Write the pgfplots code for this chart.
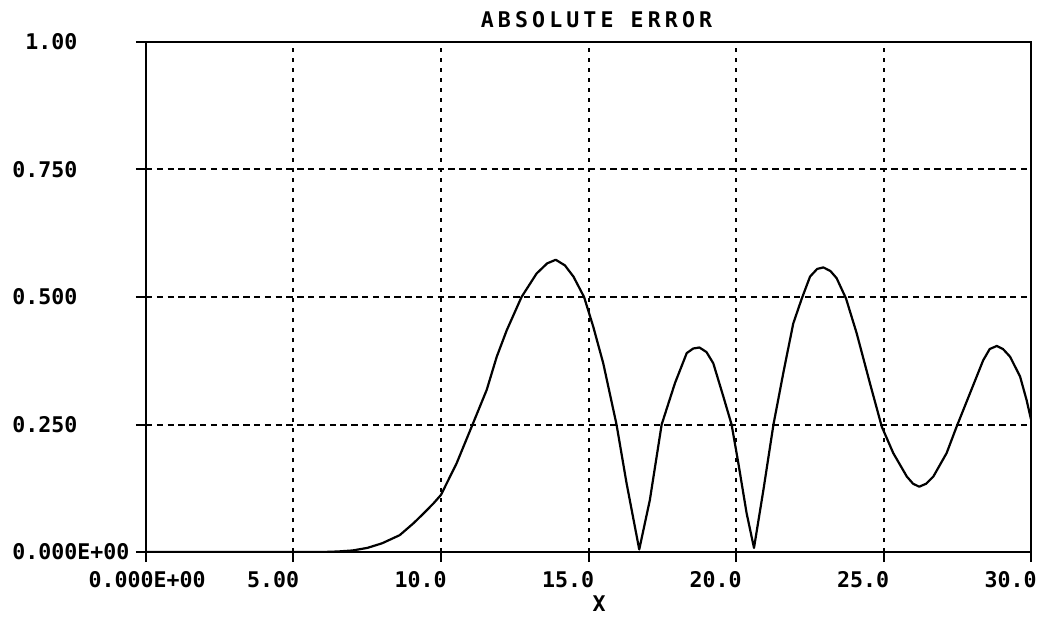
\documentclass[border=0pt]{standalone}
\usepackage{pgfplots}
\pgfplotsset{compat=1.18}
\usepackage{fontspec}
\setmainfont{DejaVu Sans Mono}

\pgfplotstableread{
x y
0.00 0.000
6.00 0.000
6.50 0.001
7.00 0.003
7.50 0.008
8.00 0.017
8.60 0.033
9.06 0.056
9.40 0.075
9.74 0.095
10.00 0.112
10.53 0.174
11.07 0.250
11.55 0.318
11.89 0.383
12.23 0.435
12.73 0.500
13.24 0.546
13.60 0.566
13.89 0.573
14.20 0.562
14.49 0.540
14.85 0.500
15.16 0.442
15.50 0.370
15.95 0.250
16.29 0.135
16.72 0.005
17.08 0.102
17.48 0.250
17.93 0.331
18.33 0.390
18.55 0.399
18.76 0.401
19.00 0.392
19.23 0.370
19.57 0.305
19.85 0.250
20.08 0.174
20.36 0.076
20.61 0.008
20.93 0.122
21.27 0.250
21.60 0.350
21.94 0.448
22.23 0.497
22.51 0.540
22.75 0.555
22.96 0.558
23.20 0.551
23.41 0.537
23.73 0.497
24.09 0.429
24.54 0.331
24.94 0.246
25.33 0.194
25.79 0.148
26.00 0.134
26.21 0.128
26.45 0.134
26.69 0.148
27.14 0.194
27.48 0.246
27.93 0.311
28.38 0.376
28.60 0.398
28.84 0.404
29.05 0.398
29.29 0.383
29.63 0.344
29.85 0.298
30.00 0.260
}\errdata

\begin{document}
\begin{tikzpicture}
\path[use as bounding box] (-73pt,-32pt) rectangle (448.5pt,276pt);
\begin{axis}[
  at={(0pt,0pt)}, anchor=south west,
  scale only axis,
  width=442.5pt, height=255pt,
  xmin=0, xmax=30, ymin=0, ymax=1,
  axis line style={line width=1pt},
  xtick={0,5,10,15,20,25,30},
  xticklabels={0.000E+00\kern-27pt,5.00,10.0,15.0,20.0,25.0,30.0},
  ytick={0,0.25,0.5,0.75,1},
  yticklabels={0.000E+00,0.250,0.500,0.750,\phantom{0}1.00},
  tick pos=left,
  tick align=outside,
  major tick length=5pt,
  every tick/.style={black, line width=1pt},
  grid=major,
  x grid style={black, line width=1pt, dash pattern=on 2.2pt off 2.8pt},
  y grid style={black, line width=1pt, dash pattern=on 3.2pt off 2.2pt},
  tick label style={font=\fontsize{10.8}{12}\selectfont\bfseries, inner sep=0pt},
  xticklabel style={anchor=north east, yshift=-4.5pt, xshift=3pt},
  yticklabel style={anchor=west, xshift=-62pt},
  xlabel={X},
  xlabel style={font=\fontsize{10.8}{12}\selectfont\bfseries, inner sep=0pt,
    at={(axis description cs:0.512,0)}, anchor=north, yshift=-21.5pt},
  title={ABSOLUTE ERROR},
  title style={font=\fontsize{10.8}{12}\selectfont\bfseries\addfontfeature{LetterSpace=19},
    inner sep=0pt, at={(axis description cs:0.5,1)}, anchor=south,
    yshift=1pt, xshift=4pt},
]
\addplot[black, line width=1.1pt, line join=round] table[x=x, y=y] {\errdata};
\end{axis}
\end{tikzpicture}
\end{document}
